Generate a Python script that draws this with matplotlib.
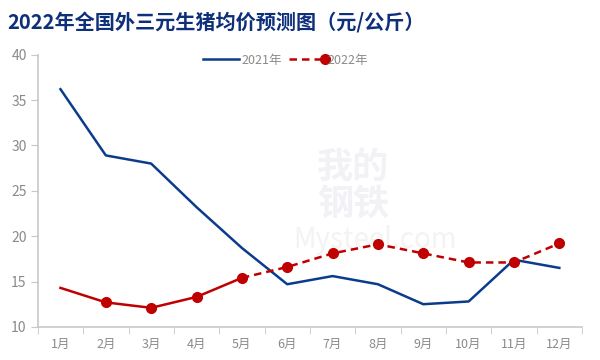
import matplotlib.pyplot as plt
import numpy as np

plt.rcParams['font.family'] = ['Noto Sans CJK SC', 'DejaVu Sans']

months = ['1月', '2月', '3月', '4月', '5月', '6月', '7月', '8月', '9月', '10月', '11月', '12月']
price_2021 = [36.2, 28.9, 28.0, 23.2, 18.7, 14.7, 15.6, 14.7, 12.5, 12.8, 17.4, 16.5]
price_2022 = [14.3, 12.7, 12.1, 13.3, 15.4, 16.6, 18.1, 19.1, 18.1, 17.1, 17.1, 19.2]
actual_end = 4  # 2022 real data up to May, forecast after

blue = '#0B3C8C'
red = '#C00000'
grey = '#8A8A8A'

fig = plt.figure(figsize=(6, 3.6), dpi=100)
ax = fig.add_axes([0.063, 0.092, 0.907, 0.756])

x = np.arange(len(months))
ax.plot(x, price_2021, color=blue, lw=1.8, label='2021年')
ax.plot(x[:actual_end + 1], price_2022[:actual_end + 1], color=red, lw=1.8)
ax.plot(x[actual_end:], price_2022[actual_end:], color=red, lw=1.8, ls=(0, (3, 2)))
ax.plot(x[1:], price_2022[1:], ls='none', marker='o', ms=7, color=red)
# legend proxy for 2022
ax.plot([], [], color=red, lw=1.8, ls=(0, (3, 2)), marker='o', ms=7, label='2022年')

ax.set_xlim(-0.5, 11.5)
ax.set_ylim(10, 40)
ax.set_yticks(range(10, 41, 5))
ax.set_xticks(x)
ax.set_xticklabels(months)
ax.set_xticks(np.arange(-0.5, 12, 1), minor=True)
ax.tick_params(axis='x', which='major', length=0, pad=8, labelsize=9, labelcolor=grey)
ax.tick_params(axis='x', which='minor', length=5, color='#C8C8C8', direction='out')
ax.tick_params(axis='y', length=5, color='#C8C8C8', labelsize=10, labelcolor=grey, pad=3)

for s in ['top', 'right']:
    ax.spines[s].set_visible(False)
for s in ['left', 'bottom']:
    ax.spines[s].set_color('#C8C8C8')
    ax.spines[s].set_linewidth(1.2)

# faint watermark
ax.text(0.58, 0.52, '我的\n钢铁', transform=ax.transAxes, fontsize=26, color='#F2F2F6',
        ha='center', va='center', zorder=0, fontweight='bold', linespacing=1.0)
ax.text(0.62, 0.32, 'Mysteel.com', transform=ax.transAxes, fontsize=20, color='#F3F3F3',
        ha='center', va='center', zorder=0)

fig.text(0.012, 0.94, '2022年全国外三元生猪均价预测图（元/公斤）', fontsize=14.5,
         fontweight='bold', color='#0E2F7A', va='center')

leg = ax.legend(loc='upper center', bbox_to_anchor=(0.455, 1.045), ncol=2, frameon=False,
                fontsize=9, handlelength=2.9, handletextpad=0.2, columnspacing=0.5)
leg.legend_handles[1].set_markevery([2])
for t in leg.get_texts():
    t.set_color(grey)

fig.savefig('out.png', dpi=100)
